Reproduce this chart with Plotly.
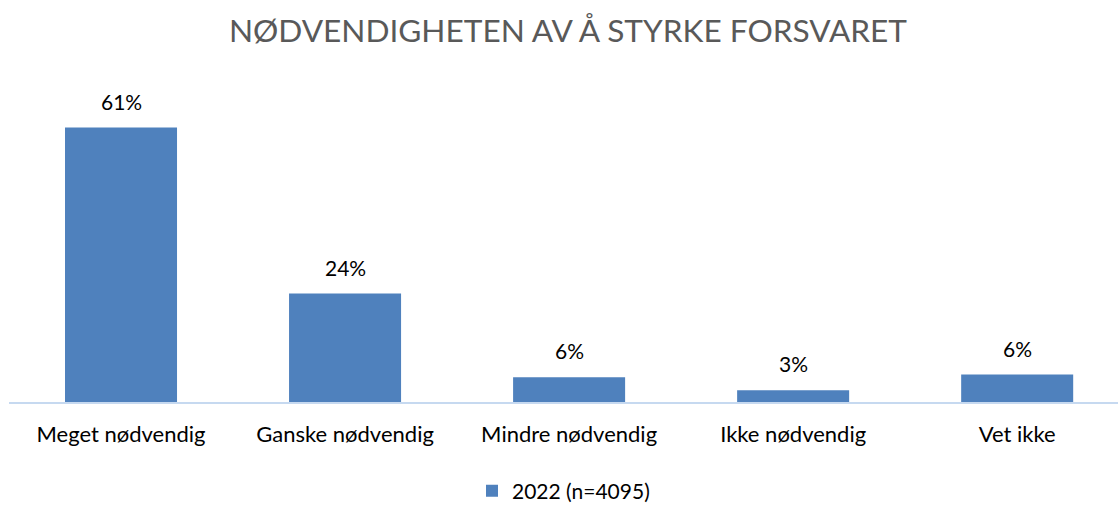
import plotly.graph_objects as go

categories = ["Meget nødvendig", "Ganske nødvendig", "Mindre nødvendig", "Ikke nødvendig", "Vet ikke"]
values = [61.0, 24.1, 5.5, 2.6, 6.1]
series_name = "2022 (n=4095)"
title = "NØDVENDIGHETEN AV Å STYRKE FORSVARET"

FONT = "Lato"

fig = go.Figure()
fig.add_trace(go.Bar(
    x=categories, y=values, name=series_name,
    marker=dict(color="#4f81bd", line=dict(width=0)),
    width=0.5,
    showlegend=True,
))

for c, v in zip(categories, values):
    fig.add_annotation(x=c, y=v, text=f"{v:.0f}%", showarrow=False,
                       yanchor="bottom", yshift=12,
                       font=dict(family=FONT, size=21, color="#000000"))

fig.update_layout(
    width=1118, height=505,
    paper_bgcolor="white", plot_bgcolor="white",
    margin=dict(l=9, r=0, t=87, b=103, autoexpand=False),
    title=dict(text=title, x=0.508, xanchor="center", y=1 - 31 / 505, yanchor="middle",
               font=dict(family=FONT, size=31.6, color="#595959")),
    xaxis=dict(showgrid=False, showline=True, linecolor="#c6d9f0", linewidth=2,
               range=[-0.5, 4.45],
               ticks="", ticklabelstandoff=12,
               tickfont=dict(family=FONT, size=22, color="#000000")),
    yaxis=dict(range=[0, 70], visible=False),
    legend=dict(orientation="h", x=0.5, xanchor="center", yref="container",
                y=14 / 505, yanchor="middle",
                font=dict(family=FONT, size=21, color="#000000")),
)

fig.write_html("out.html",
               config={"displayModeBar": False},
               post_script="document.body.style.margin='0';document.body.style.overflow='hidden';")
